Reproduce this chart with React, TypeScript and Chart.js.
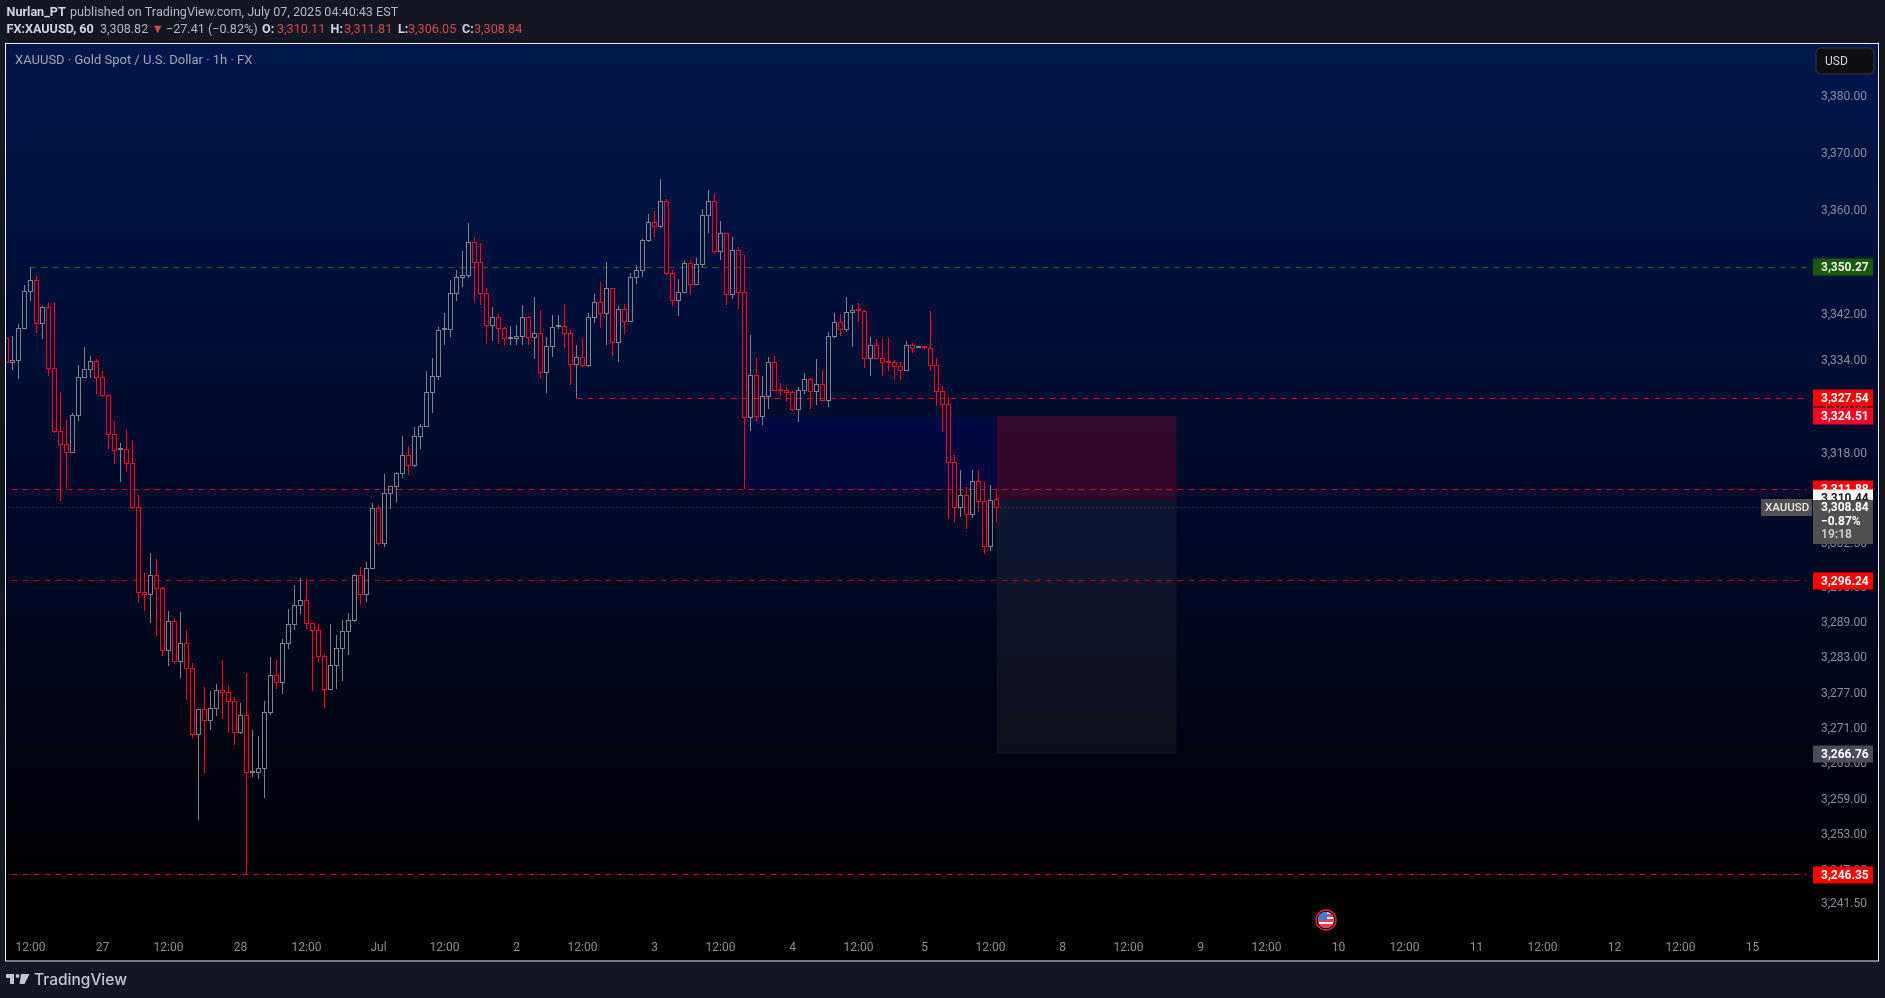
import React, { useEffect, useRef } from "react";
import { Chart, registerables } from "chart.js";

Chart.register(...registerables);

const opens = [3337.9,3333.69,3334.03,3339.64,3346.05,3347.96,3340.5,3343.28,3332.71,3321.84,3319.55,3318.23,3324.6,3331.15,3332.54,3333.91,3331.15,3328.05,3321.33,3318.7,3318.74,3316.34,3308.78,3294.24,3293.9,3297.15,3294.93,3284.35,3289.29,3282.48,3285.55,3281.29,3270.08,3274.33,3272.46,3274.5,3277.55,3277.21,3275.68,3270.42,3273.31,3263.62,3263.65,3264.29,3273.82,3280.1,3278.91,3285.55,3288.78,3292.02,3292.87,3288.95,3287.76,3283.33,3277.72,3281.8,3284.69,3287.59,3289.46,3297.15,3293.9,3298.34,3308.67,3302.62,3311.18,3312.38,3314.62,3317.71,3315.99,3320.98,3322.71,3328.57,3331.33,3339.42,3339.45,3345.69,3348.47,3348.81,3354.55,3351.08,3345.69,3340.15,3341.53,3339.63,3337.87,3337.9,3338.24,3341.53,3338.07,3338.76,3332.0,3336.5,3339.94,3339.97,3338.76,3333.38,3334.6,3333.23,3341.53,3344.14,3342.23,3346.57,3337.2,3342.92,3340.84,3348.47,3349.69,3354.9,3358.03,3357.34,3361.69,3349.17,3344.48,3345.87,3350.9,3347.26,3350.73,3359.25,3361.69,3352.99,3356.12,3345.52,3353.16,3345.87,3324.26,3331.5,3324.43,3327.88,3333.74,3328.94,3328.91,3328.56,3325.63,3328.91,3330.81,3328.74,3329.95,3327.19,3338.23,3340.66,3339.45,3342.4,3342.78,3342.58,3334.43,3336.68,3334.43,3333.77,3333.74,3333.05,3332.36,3336.68,3336.3,3336.36,3336.16,3333.23,3328.74,3326.49,3316.51,3308.78,3310.84,3307.57,3313.24,3309.81,3302.11,3310.11];
const highs = [3337.9,3338.31,3340.39,3347.15,3350.27,3348.71,3343.51,3343.97,3343.97,3328.57,3323.8,3324.94,3333.23,3336.34,3334.78,3334.26,3332.19,3328.05,3323.57,3319.78,3322.01,3320.29,3310.83,3297.49,3300.96,3299.88,3295.1,3291.06,3289.81,3290.83,3287.76,3282.14,3274.33,3278.06,3277.38,3278.63,3282.65,3278.23,3276.36,3275.34,3280.44,3270.76,3269.74,3275.68,3283.16,3282.65,3286.23,3291.34,3295.43,3296.62,3296.45,3288.95,3288.78,3283.67,3288.78,3286.91,3289.46,3290.65,3297.32,3298.51,3299.37,3309.47,3309.13,3314.45,3312.38,3314.79,3320.98,3319.26,3322.53,3323.11,3332.19,3334.43,3339.8,3342.23,3347.95,3349.68,3352.99,3357.86,3355.42,3354.38,3346.56,3343.27,3342.05,3339.8,3339.97,3340.15,3343.61,3341.71,3345.0,3342.75,3338.07,3341.87,3341.87,3343.79,3339.28,3336.67,3337.89,3342.23,3345.52,3347.6,3351.08,3346.57,3343.44,3343.79,3349.16,3350.56,3355.08,3359.43,3359.95,3365.52,3362.03,3349.69,3348.12,3351.25,3351.43,3351.77,3360.3,3363.6,3362.91,3358.21,3356.12,3355.42,3353.68,3352.29,3338.44,3334.6,3331.33,3334.6,3334.78,3330.12,3329.43,3328.74,3329.43,3331.85,3330.98,3334.26,3332.36,3338.92,3342.23,3342.06,3345.0,3343.62,3343.97,3342.75,3338.06,3337.72,3337.72,3337.89,3334.09,3333.74,3337.37,3337.03,3336.36,3336.36,3342.58,3334.43,3329.6,3327.71,3317.71,3315.13,3312.21,3315.13,3315.13,3313.07,3312.55,3311.81];
const lows = [3333.7,3332.42,3330.93,3339.64,3344.43,3338.77,3337.85,3331.44,3321.61,3309.93,3311.87,3318.23,3323.68,3331.15,3331.1,3328.33,3327.7,3318.86,3316.28,3313.19,3314.91,3308.56,3292.47,3291.11,3289.07,3286.85,3283.45,3281.75,3282.08,3279.7,3275.97,3269.51,3255.65,3263.59,3270.82,3273.25,3272.74,3270.36,3268.33,3270.19,3246.35,3262.91,3262.58,3259.37,3273.42,3277.83,3276.98,3284.64,3287.87,3290.54,3288.05,3277.5,3282.43,3274.61,3277.72,3277.83,3279.19,3283.62,3289.12,3292.13,3292.65,3298.17,3302.22,3302.04,3308.56,3309.7,3313.87,3314.39,3315.76,3318.86,3322.71,3325.06,3330.78,3336.79,3338.18,3344.42,3346.85,3348.41,3344.25,3343.73,3336.97,3337.49,3336.97,3336.79,3336.79,3336.79,3336.79,3336.79,3334.37,3330.93,3328.51,3334.72,3339.57,3336.27,3329.88,3327.54,3332.88,3333.0,3340.6,3339.74,3336.8,3334.89,3333.86,3338.67,3340.84,3347.31,3348.52,3354.67,3355.48,3356.99,3348.82,3343.56,3341.82,3345.87,3345.46,3347.26,3350.21,3356.24,3352.58,3351.54,3343.73,3344.77,3343.04,3311.88,3321.96,3323.57,3322.99,3325.75,3328.91,3328.0,3326.95,3325.29,3323.51,3328.33,3325.75,3326.44,3327.19,3326.09,3338.0,3338.35,3339.08,3336.45,3340.78,3332.82,3331.44,3334.43,3331.44,3332.3,3330.75,3330.75,3332.36,3335.41,3336.3,3335.93,3332.3,3326.26,3321.81,3306.73,3306.04,3307.18,3305.0,3306.98,3308.0,3300.74,3301.25,3306.05];
const closes = [3333.7,3334.03,3339.64,3346.05,3347.96,3340.5,3343.28,3332.71,3321.84,3319.55,3318.23,3324.6,3331.15,3332.54,3333.91,3331.15,3328.05,3321.33,3318.57,3318.76,3316.34,3308.78,3294.24,3293.9,3297.15,3294.93,3284.35,3289.29,3282.48,3285.55,3281.29,3270.08,3274.33,3272.46,3274.5,3277.6,3277.21,3275.68,3270.42,3273.31,3263.65,3263.68,3264.29,3273.82,3280.1,3278.91,3285.55,3288.78,3292.02,3292.87,3288.95,3287.76,3283.33,3277.72,3281.8,3284.69,3287.59,3289.46,3297.15,3293.9,3298.34,3308.67,3302.62,3311.18,3312.38,3314.62,3317.71,3315.99,3320.98,3322.71,3328.57,3331.33,3339.28,3339.48,3345.69,3348.47,3348.81,3354.55,3351.08,3345.69,3340.15,3341.53,3339.63,3337.9,3337.93,3338.24,3341.53,3338.07,3338.76,3332.0,3336.5,3339.8,3340.0,3338.76,3333.38,3334.6,3333.23,3341.53,3344.14,3342.23,3346.57,3337.2,3342.92,3340.84,3348.47,3349.69,3354.9,3358.03,3357.34,3361.69,3349.17,3344.48,3345.87,3350.9,3347.26,3350.73,3359.25,3361.69,3352.99,3356.12,3345.52,3353.16,3345.87,3324.26,3331.5,3324.43,3327.88,3333.74,3328.91,3328.88,3328.56,3325.63,3328.91,3330.81,3328.74,3329.95,3327.19,3338.23,3340.66,3339.45,3342.4,3342.75,3342.7,3334.43,3336.68,3334.43,3333.74,3333.7,3333.05,3332.36,3336.68,3336.16,3336.36,3336.3,3333.23,3328.74,3326.49,3316.51,3308.78,3310.84,3307.57,3313.24,3309.81,3302.11,3309.98,3308.84];

const priceTicks = [3380,3370,3360,3350,3342,3334,3326,3318,3310,3302.5,3295,3289,3283,3277,3271,3265,3259,3253,3247,3241.5];
const timeBars = [4,16,27,39,50,62,73,85,96,108,119,131,142,153,164,176,187,199,210,222,233,245,256,268,279,291];
const timeLabels = ["12:00","27","12:00","28","12:00","Jul","12:00","2","12:00","3","12:00","4","12:00","5","12:00","8","12:00","9","12:00","10","12:00","11","12:00","12","12:00","15"];

const levelPrices = [3350.27,3327.54,3311.88,3296.24,3246.35,3308.84];
const levelStarts = [4,95,-1,-1,-1,-1];
const levelColors = ["#2b5f1e","#e00014","#c8101f","#9c0e1a","#d0101f","#4b4f5a"];
const levelDashes = [[6,5],[6,5],[6,5],[6,5],[6,5],[1,3]];

const zoneStarts = [123,165,165];
const zoneEnds = [165,195,195];
const zoneTops = [3324.3,3324.51,3310.11];
const zoneBottoms = [3311.88,3310.11,3266.76];
const zoneFills = ["rgba(10,0,200,0.12)","rgba(255,0,50,0.2)","rgba(128,128,128,0.11)"];

const tagPrices = [3350.27,3327.54,3324.51,3296.24,3266.76,3246.35,3311.88,3310.44];
const tagTexts = ["3,350.27","3,327.54","3,324.51","3,296.24","3,266.76","3,246.35","3,311.88","3,310.44"];
const tagFills = ["#1a5a0c","#ff0000","#ff0022","#ff0000","#4a4c57","#ff0000","#ff0000","#ffffff"];
const tagInks = ["#e8f0e4","#ffffff","#ffffff","#ffffff","#ffffff","#ffffff","#ffffff","#131722"];

const RED = "#ff0015";
const GRAY = "#7f8289";
const barColors = closes.map((c, i) => (c < opens[i] ? RED : GRAY));

const fmt = (v: number) => v.toLocaleString("en-US", { minimumFractionDigits: 2, maximumFractionDigits: 2 });

const chrome = {
  id: "chrome",
  beforeDraw(chart: any) {
    const { ctx } = chart;
    ctx.save();
    ctx.fillStyle = "#131722";
    ctx.fillRect(0, 0, 1885, 998);
    const g = ctx.createLinearGradient(0, 44, 0, 925);
    g.addColorStop(0, "#00174d");
    g.addColorStop(0.5, "#000a2a");
    g.addColorStop(1, "#000000");
    ctx.fillStyle = g;
    ctx.fillRect(6, 44, 1872, 917);
    ctx.restore();
  },
  beforeDatasetsDraw(chart: any) {
    const { ctx, scales } = chart;
    ctx.save();
    zoneFills.forEach((fill, i) => {
      const x0 = scales.x.getPixelForValue(zoneStarts[i]);
      const x1 = scales.x.getPixelForValue(zoneEnds[i]);
      const y0 = scales.y.getPixelForValue(zoneTops[i]);
      const y1 = scales.y.getPixelForValue(zoneBottoms[i]);
      ctx.fillStyle = fill;
      ctx.fillRect(x0, y0, x1 - x0, y1 - y0);
    });
    ctx.restore();
  },
  // Snap the library's computed element positions to the pixel grid so strokes stay crisp.
  beforeDatasetDraw(chart: any, args: any) {
    const ds = chart.data.datasets[args.index];
    args.meta.data.forEach((el: any) => {
      if (ds.snap === "line") {
        el.y = Math.floor(el.y) + 0.5;
      } else if (ds.snap === "wick") {
        el.y = Math.round(el.y);
        el.base = Math.round(el.base);
      } else if (ds.snap === "body") {
        const top = Math.floor(Math.min(el.y, el.base));
        const bot = Math.floor(Math.max(el.y, el.base)) + 1;
        el.y = top;
        el.base = bot;
      }
    });
  },
  afterDraw(chart: any) {
    const { ctx, scales } = chart;
    const y = scales.y;
    const TX = 1821;
    ctx.save();
    ctx.textBaseline = "middle";
    ctx.textAlign = "left";
    const drawTag = (i: number) => {
      const c = Math.round(y.getPixelForValue(tagPrices[i]));
      ctx.fillStyle = tagFills[i];
      ctx.fillRect(1813, c - 8.5, 60, 17);
      ctx.fillStyle = tagInks[i];
      ctx.font = "bold 12px Roboto";
      ctx.fillText(tagTexts[i], TX, c + 0.5);
    };
    tagPrices.forEach((_, i) => drawTag(i));

    ctx.fillStyle = "#505050";
    ctx.fillRect(1813, 500, 60, 44);
    ctx.fillStyle = "#ffffff";
    ctx.font = "bold 12px Roboto";
    ctx.fillText("3,308.84", TX, 508);
    ctx.fillText("\u22120.87%", TX, 521.5);
    ctx.fillStyle = "#c8c8c8";
    ctx.fillText("19:18", TX, 535);
    ctx.fillStyle = "#505050";
    ctx.fillRect(1761, 499, 51, 17);
    ctx.fillStyle = "#e6e6e6";
    ctx.font = "500 11.5px Roboto";
    ctx.fillText("XAUUSD", 1765, 508);

    ctx.fillStyle = "#0f0f0f";
    ctx.strokeStyle = "#2a2e39";
    ctx.lineWidth = 1.5;
    ctx.beginPath();
    ctx.roundRect(1816, 48, 58, 26, 5);
    ctx.fill();
    ctx.stroke();
    ctx.fillStyle = "#d1d4dc";
    ctx.font = "12px Roboto";
    ctx.fillText("USD", 1825, 61.5);

    ctx.strokeStyle = "#e8eaee";
    ctx.lineWidth = 1;
    ctx.strokeRect(5.5, 43.5, 1873, 917.5);

    ctx.fillStyle = "#a3a6af";
    ctx.font = "13px Roboto";
    ctx.fillText("XAUUSD \u00b7 Gold Spot / U.S. Dollar \u00b7 1h \u00b7 FX", 15, 60.5);

    const hdr = (t: string, x: number, yy: number, color: string, bold = false) => {
      ctx.fillStyle = color;
      ctx.font = (bold ? "bold " : "") + "12.6px Roboto";
      ctx.fillText(t, x, yy);
    };
    const L = "#d1d4dc", N = "#b2b5be", V = "#cf4a4a";
    hdr("Nurlan_PT", 6.5, 12.5, L, true);
    hdr("published on TradingView.com, July 07, 2025 04:40:43 EST", 70, 12.5, N);
    hdr("FX:XAUUSD, 60", 6.5, 30, L, true);
    hdr("3,308.82", 100, 30, N);
    hdr("\u25bc", 151.5, 30, V);
    hdr("\u221227.41 (\u22120.82%)", 166, 30, N);
    hdr("O:", 262, 30, L, true);
    hdr("3,310.11", 277, 30, V);
    hdr("H:", 330.5, 30, L, true);
    hdr("3,311.81", 344, 30, V);
    hdr("L:", 398, 30, L, true);
    hdr("3,306.05", 408, 30, V);
    hdr("C:", 462, 30, L, true);
    hdr("3,308.84", 474, 30, V);

    ctx.fillStyle = "#c3c6ce";
    ctx.fillRect(6, 974, 8, 4);
    ctx.fillRect(10, 974, 4, 10);
    ctx.beginPath();
    ctx.arc(17.5, 976, 1.9, 0, Math.PI * 2);
    ctx.fill();
    ctx.beginPath();
    ctx.moveTo(21, 974);
    ctx.lineTo(29.5, 974);
    ctx.lineTo(24.5, 984);
    ctx.lineTo(19.5, 984);
    ctx.closePath();
    ctx.fill();
    ctx.font = "500 15.5px Inter";
    ctx.fillText("TradingView", 34, 980);

    const fx = 1326, fy = 920;
    ctx.strokeStyle = "#e8253c";
    ctx.lineWidth = 1.4;
    ctx.beginPath();
    ctx.arc(fx, fy, 10, 0, Math.PI * 2);
    ctx.stroke();
    ctx.save();
    ctx.beginPath();
    ctx.arc(fx, fy, 8, 0, Math.PI * 2);
    ctx.clip();
    ctx.fillStyle = "#e8e8ee";
    ctx.fillRect(fx - 8, fy - 8, 16, 16);
    ctx.fillStyle = "#e04050";
    ctx.fillRect(fx - 8, fy - 6, 16, 3);
    ctx.fillRect(fx - 8, fy - 1, 16, 3);
    ctx.fillRect(fx - 8, fy + 4, 16, 4);
    ctx.fillStyle = "#3d7be0";
    ctx.fillRect(fx - 8, fy - 8, 9, 8);
    ctx.restore();
    ctx.restore();
  },
};

export default function App() {
  const ref = useRef<HTMLCanvasElement | null>(null);

  useEffect(() => {
    document.body.style.margin = "0";
    const index = closes.map((_, i) => i);
    const hollow = closes.map(() => "transparent");
    const base = { type: "bar", grouped: false, order: 1, inflateAmount: 0 };
    const datasets: any[] = [
      ...levelPrices.map((p, i) => ({
        type: "line",
        snap: "line",
        data: [{ x: levelStarts[i], y: p }, { x: 300, y: p }],
        borderColor: levelColors[i],
        borderWidth: 1,
        borderDash: levelDashes[i],
        pointRadius: 0,
        order: 5,
      })),
      {
        ...base,
        snap: "wick",
        data: index.map((i) => ({ x: i, y: [Math.max(opens[i], closes[i]), highs[i]] })),
        backgroundColor: barColors,
        borderWidth: 0,
        barThickness: 1,
      },
      {
        ...base,
        snap: "wick",
        data: index.map((i) => ({ x: i, y: [lows[i], Math.min(opens[i], closes[i])] })),
        backgroundColor: barColors,
        borderWidth: 0,
        barThickness: 1,
      },
      {
        ...base,
        snap: "body",
        data: index.map((i) => ({ x: i, y: [opens[i], closes[i]] })),
        backgroundColor: hollow,
        borderColor: barColors,
        borderWidth: 1,
        borderSkipped: false,
        barThickness: 5,
        minBarLength: 1,
      },
    ];
    const chart = new Chart(ref.current as HTMLCanvasElement, {
      type: "bar",
      data: { datasets },
      plugins: [chrome],
      options: {
        animation: false,
        responsive: false,
        devicePixelRatio: 1,
        events: [],
        layout: { padding: { left: 6, top: 44, right: 7, bottom: 0 } },
        plugins: { legend: { display: false }, tooltip: { enabled: false }, title: { display: false } },
        scales: {
          x: {
            type: "linear",
            offset: false,
            min: -1 / 12,
            max: 301 - 1 / 12,
            grid: { display: false, drawTicks: false },
            border: { display: false },
            afterFit: (s: any) => { s.height = 65; },
            afterBuildTicks: (s: any) => { s.ticks = timeBars.map((value) => ({ value })); },
            ticks: {
              autoSkip: false,
              maxRotation: 0,
              padding: 8,
              color: "#8c8f98",
              font: { family: "Roboto", size: 12 },
              callback: (v: any) => timeLabels[timeBars.indexOf(Number(v))] ?? "",
            },
          },
          y: {
            type: "logarithmic",
            position: "right",
            bounds: "data",
            min: 3236.59,
            max: 3389.22,
            grid: { display: false, drawTicks: false },
            border: { display: false },
            afterFit: (s: any) => { s.width = 66; },
            afterBuildTicks: (s: any) => { s.ticks = priceTicks.map((value) => ({ value })); },
            ticks: {
              autoSkip: false,
              padding: 9,
              color: "#8c8f98",
              font: { family: "Roboto", size: 12 },
              callback: (v: any) => fmt(Number(v)),
            },
          },
        },
      } as any,
    } as any);
    return () => chart.destroy();
  }, []);

  return (
    <div style={{ position: "absolute", left: 0, top: 0, width: 1885, height: 998, background: "#131722" }}>
      <canvas ref={ref} width={1885} height={998} style={{ display: "block" }} />
    </div>
  );
}
